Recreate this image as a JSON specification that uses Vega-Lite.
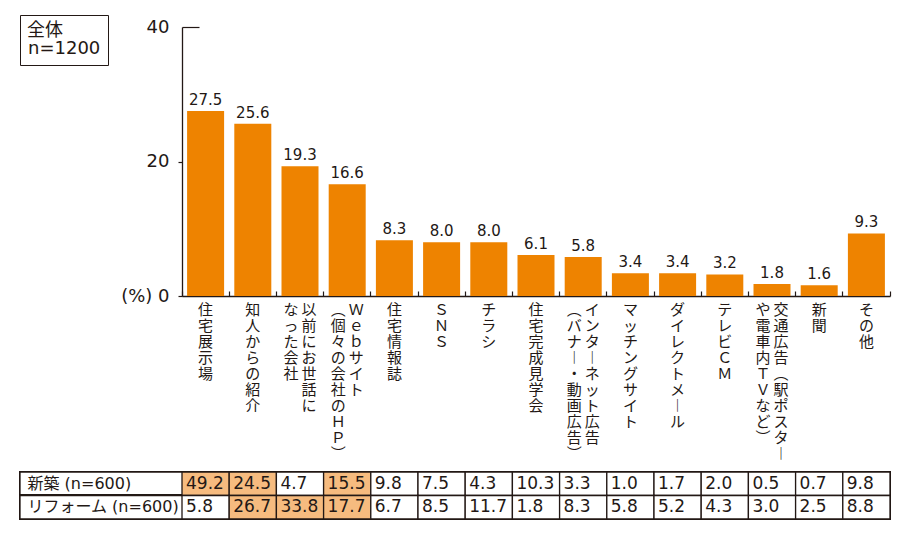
{
  "$schema": "https://vega.github.io/schema/vega-lite/v6.json",
  "padding": {"left": 19, "top": 14, "right": 5, "bottom": 5},
  "background": "white",
  "bounds": "flush",
  "spacing": 176,
  "config": {
    "view": {"stroke": null},
    "font": "DejaVu Sans, Noto Sans CJK JP",
    "text": {"color": "#231815"}
  },
  "datasets": {
    "bars": [
      {"cat": "住宅展示場", "pct": 27.5, "l1": "住宅展示場"},
      {"cat": "知人からの紹介", "pct": 25.6, "l1": "知人からの紹介"},
      {"cat": "以前にお世話になった会社", "pct": 19.3, "l1": "以前にお世話に", "l2": "なった会社"},
      {"cat": "Webサイト（個々の会社のHP）", "pct": 16.6, "l1": "Ｗｅｂサイト", "l2": "︵個々の会社のＨＰ︶"},
      {"cat": "住宅情報誌", "pct": 8.3, "l1": "住宅情報誌"},
      {"cat": "SNS", "pct": 8.0, "l1": "ＳＮＳ"},
      {"cat": "チラシ", "pct": 8.0, "l1": "チラシ"},
      {"cat": "住宅完成見学会", "pct": 6.1, "l1": "住宅完成見学会"},
      {"cat": "インターネット広告（バナー・動画広告）", "pct": 5.8, "l1": "インタ︱ネット広告", "l2": "︵バナ︱・動画広告︶"},
      {"cat": "マッチングサイト", "pct": 3.4, "l1": "マッチングサイト"},
      {"cat": "ダイレクトメール", "pct": 3.4, "l1": "ダイレクトメ︱ル"},
      {"cat": "テレビCM", "pct": 3.2, "l1": "テレビＣＭ"},
      {"cat": "交通広告（駅ポスターや電車内TVなど）", "pct": 1.8, "l1": "交通広告︵駅ポスタ︱", "l2": "や電車内ＴＶなど︶"},
      {"cat": "新聞", "pct": 1.6, "l1": "新聞"},
      {"cat": "その他", "pct": 9.3, "l1": "その他"}
    ],
    "table": [
      {"row": "新築 (n=600)", "cat": "住宅展示場", "v": 49.2, "top3": true},
      {"row": "新築 (n=600)", "cat": "知人からの紹介", "v": 24.5, "top3": true},
      {"row": "新築 (n=600)", "cat": "以前にお世話になった会社", "v": 4.7, "top3": false},
      {"row": "新築 (n=600)", "cat": "Webサイト（個々の会社のHP）", "v": 15.5, "top3": true},
      {"row": "新築 (n=600)", "cat": "住宅情報誌", "v": 9.8, "top3": false},
      {"row": "新築 (n=600)", "cat": "SNS", "v": 7.5, "top3": false},
      {"row": "新築 (n=600)", "cat": "チラシ", "v": 4.3, "top3": false},
      {"row": "新築 (n=600)", "cat": "住宅完成見学会", "v": 10.3, "top3": false},
      {"row": "新築 (n=600)", "cat": "インターネット広告（バナー・動画広告）", "v": 3.3, "top3": false},
      {"row": "新築 (n=600)", "cat": "マッチングサイト", "v": 1.0, "top3": false},
      {"row": "新築 (n=600)", "cat": "ダイレクトメール", "v": 1.7, "top3": false},
      {"row": "新築 (n=600)", "cat": "テレビCM", "v": 2.0, "top3": false},
      {"row": "新築 (n=600)", "cat": "交通広告（駅ポスターや電車内TVなど）", "v": 0.5, "top3": false},
      {"row": "新築 (n=600)", "cat": "新聞", "v": 0.7, "top3": false},
      {"row": "新築 (n=600)", "cat": "その他", "v": 9.8, "top3": false},
      {"row": "リフォーム (n=600)", "cat": "住宅展示場", "v": 5.8, "top3": false},
      {"row": "リフォーム (n=600)", "cat": "知人からの紹介", "v": 26.7, "top3": true},
      {"row": "リフォーム (n=600)", "cat": "以前にお世話になった会社", "v": 33.8, "top3": true},
      {"row": "リフォーム (n=600)", "cat": "Webサイト（個々の会社のHP）", "v": 17.7, "top3": true},
      {"row": "リフォーム (n=600)", "cat": "住宅情報誌", "v": 6.7, "top3": false},
      {"row": "リフォーム (n=600)", "cat": "SNS", "v": 8.5, "top3": false},
      {"row": "リフォーム (n=600)", "cat": "チラシ", "v": 11.7, "top3": false},
      {"row": "リフォーム (n=600)", "cat": "住宅完成見学会", "v": 1.8, "top3": false},
      {"row": "リフォーム (n=600)", "cat": "インターネット広告（バナー・動画広告）", "v": 8.3, "top3": false},
      {"row": "リフォーム (n=600)", "cat": "マッチングサイト", "v": 5.8, "top3": false},
      {"row": "リフォーム (n=600)", "cat": "ダイレクトメール", "v": 5.2, "top3": false},
      {"row": "リフォーム (n=600)", "cat": "テレビCM", "v": 4.3, "top3": false},
      {"row": "リフォーム (n=600)", "cat": "交通広告（駅ポスターや電車内TVなど）", "v": 3.0, "top3": false},
      {"row": "リフォーム (n=600)", "cat": "新聞", "v": 2.5, "top3": false},
      {"row": "リフォーム (n=600)", "cat": "その他", "v": 8.8, "top3": false}
    ]
  },
  "vconcat": [
    {
      "width": 870,
      "height": 269,
      "data": {"name": "bars"},
      "encoding": {
        "x": {
          "field": "cat", "type": "nominal", "sort": null,
          "scale": {"range": [162, 870], "paddingInner": 0, "paddingOuter": 0},
          "axis": {
            "orient": "bottom", "title": null, "labels": false,
            "domain": true, "domainColor": "#231815", "domainWidth": 1.3,
            "ticks": true, "tickSize": -5, "tickColor": "#231815", "tickWidth": 1.2,
            "bandPosition": 1, "tickExtra": true
          }
        }
      },
      "layer": [
        {
          "mark": {"type": "bar", "width": {"band": 0.784}},
          "encoding": {
            "y": {
              "field": "pct", "type": "quantitative",
              "scale": {"domain": [0, 40], "nice": false},
              "axis": {
                "orient": "left", "offset": -162, "values": [0, 20, 40], "title": null,
                "grid": false, "domain": true, "domainColor": "#231815", "domainWidth": 1.3,
                "tickColor": "#231815", "tickWidth": 1.2,
                "tickSize": {"condition": {"test": "datum.value == 40", "value": -17}, "value": 4},
                "labelPadding": {"condition": {"test": "datum.value == 40", "value": 30}, "value": 9},
                "labelFontSize": 18, "labelColor": "#231815",
                "labelFlush": false, "labelBaseline": "middle",
                "labelExpr": "datum.value == 0 ? '(%) 0' : datum.label"
              }
            },
            "color": {
              "datum": "n=1200",
              "scale": {"range": ["#ee8300"]},
              "legend": {
                "title": "全体", "orient": "none", "legendX": 0, "legendY": -12,
                "strokeColor": "#231815", "fillColor": "white", "padding": 7,
                "symbolSize": 0, "symbolOpacity": 0, "symbolStrokeWidth": 0, "labelOffset": -17,
                "titleFontSize": 18, "labelFontSize": 18, "titleFontWeight": "normal",
                "titleColor": "#231815", "labelColor": "#231815", "titlePadding": 0,
                "titleFont": "Noto Sans CJK JP",
                "labelExpr": "datum.label + '\u3000'"
              }
            }
          }
        },
        {
          "mark": {"type": "text", "baseline": "bottom", "dy": -3, "fontSize": 15},
          "encoding": {
            "y": {"field": "pct", "type": "quantitative"},
            "text": {"field": "pct", "type": "quantitative", "format": ".1f"}
          }
        },
        {
          "transform": [{"filter": "!datum.l2"}, {"calculate": "split(datum.l1, '')", "as": "t"}],
          "mark": {"type": "text", "baseline": "top", "align": "center", "dy": 7, "font": "Noto Sans CJK JP", "fontSize": 15, "lineHeight": 16},
          "encoding": {"y": {"datum": 0}, "text": {"field": "t"}}
        },
        {
          "transform": [{"filter": "!!datum.l2"}, {"calculate": "split(datum.l1, '')", "as": "t"}],
          "mark": {"type": "text", "baseline": "top", "align": "center", "dy": 7, "dx": 9, "font": "Noto Sans CJK JP", "fontSize": 15, "lineHeight": 16},
          "encoding": {"y": {"datum": 0}, "text": {"field": "t"}}
        },
        {
          "transform": [{"filter": "!!datum.l2"}, {"calculate": "split(datum.l2, '')", "as": "t"}],
          "mark": {"type": "text", "baseline": "top", "align": "center", "dy": 7, "dx": -9, "font": "Noto Sans CJK JP", "fontSize": 15, "lineHeight": 16},
          "encoding": {"y": {"datum": 0}, "text": {"field": "t"}}
        }
      ]
    },
    {
      "width": 870,
      "height": 47,
      "data": {"name": "table"},
      "encoding": {
        "y": {
          "field": "row", "type": "nominal", "sort": null,
          "scale": {"paddingInner": 0, "paddingOuter": 0},
          "axis": {
            "orient": "left", "title": null, "domain": false, "ticks": false,
            "labelAlign": "left", "labelPadding": -7, "labelFontSize": 16,
            "labelColor": "#231815", "labelBaseline": "middle"
          }
        }
      },
      "layer": [
        {
          "mark": {"type": "rect", "fill": "white", "stroke": "#231815", "strokeWidth": 1.3}
        },
        {
          "mark": {"type": "rect", "stroke": "#231815", "strokeWidth": 1.3},
          "encoding": {
            "x": {
              "field": "cat", "type": "nominal", "sort": null,
              "scale": {"range": [162, 870], "paddingInner": 0, "paddingOuter": 0},
              "axis": null
            },
            "fill": {"condition": {"test": "datum.top3", "value": "#f6bb7f"}, "value": "white"}
          }
        },
        {
          "mark": {"type": "text", "align": "left", "baseline": "middle", "dx": 4, "fontSize": 17},
          "encoding": {
            "x": {"field": "cat", "type": "nominal", "sort": null, "bandPosition": 0},
            "text": {"field": "v", "type": "quantitative", "format": ".1f"}
          }
        }
      ]
    }
  ]
}
